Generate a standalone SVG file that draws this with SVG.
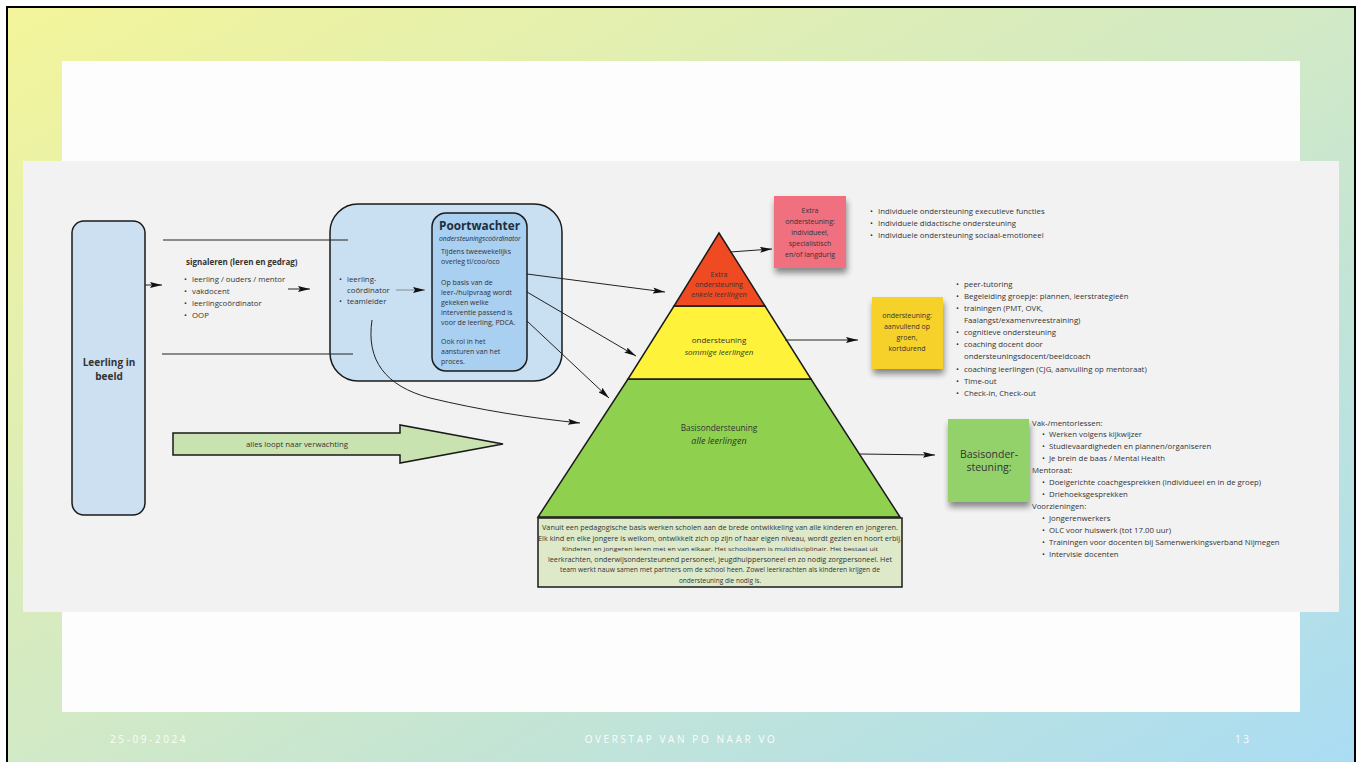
<svg xmlns="http://www.w3.org/2000/svg" width="1362" height="762" viewBox="0 0 1362 762">
<style>
text{font-family:"Open Sans","Liberation Sans",sans-serif;fill:#333}
.b{font-weight:bold}
.i{font-style:italic}
.s7{font-size:7px}
.s8{font-size:7.8px}
.mid{text-anchor:middle}
.edge{stroke:#1a1a1a;stroke-width:1.5}
.ln{fill:none;stroke:#222;stroke-width:1}
.foot{font-family:"Open Sans","Liberation Sans",sans-serif;font-size:10px;letter-spacing:2.6px;fill:#ffffff;fill-opacity:0.95}
</style>
<defs>
<linearGradient id="bg" x1="0" y1="0" x2="1" y2="1">
<stop offset="0" stop-color="#f4f59a"/>
<stop offset="0.5" stop-color="#d1e9c6"/>
<stop offset="1" stop-color="#a9dcf4"/>
</linearGradient>
<marker id="ah" viewBox="0 0 12 6" markerWidth="12" markerHeight="6" refX="12" refY="3" orient="auto" markerUnits="userSpaceOnUse">
<path d="M0,0 L12,3 L0,6 L2,3 z" fill="#111"/>
</marker>
<filter id="sh" x="-20%" y="-20%" width="140%" height="160%">
<feGaussianBlur in="SourceAlpha" stdDeviation="3"/>
<feOffset dx="1" dy="5" result="o"/>
<feComponentTransfer><feFuncA type="linear" slope="0.45"/></feComponentTransfer>
<feMerge><feMergeNode/><feMergeNode in="SourceGraphic"/></feMerge>
</filter>
</defs>

<g id="background">
<rect x="0" y="0" width="1362" height="762" fill="#ffffff"/>
<rect x="7" y="7" width="1348" height="762" fill="url(#bg)" stroke="#000" stroke-width="2"/>
<rect x="62" y="61" width="1238" height="651" fill="#fdfdfd"/>
<rect x="23" y="161" width="1316" height="451" fill="#f2f2f2"/>
</g>

<g id="footer">
<text class="foot" x="110" y="743">25-09-2024</text>
<text class="foot" x="681" y="743" text-anchor="middle">OVERSTAP VAN PO NAAR VO</text>
<text class="foot" x="1235" y="743">13</text>
</g>

<g id="leerling-in-beeld">
<rect class="edge" x="72" y="221" width="73" height="294" rx="12" fill="#cde0f2"/>
<text class="b mid" x="109" y="366" font-size="10">Leerling in</text>
<text class="b mid" x="109" y="380" font-size="10">beeld</text>
</g>

<g id="signaleren">
<text class="b" x="186" y="265" font-size="8">signaleren (leren en gedrag)</text>
<text class="s8" x="184" y="282">•</text><text class="s8" x="192" y="282">leerling / ouders / mentor</text>
<text class="s8" x="184" y="294">•</text><text class="s8" x="192" y="294">vakdocent</text>
<text class="s8" x="184" y="306">•</text><text class="s8" x="192" y="306">leerlingcoördinator</text>
<text class="s8" x="184" y="318">•</text><text class="s8" x="192" y="318">OOP</text>
</g>

<g id="coordinatie">
<rect class="edge" x="330" y="204" width="232" height="177" rx="28" fill="#c9dff2"/>
<text class="s8" x="339" y="282">•</text><text class="s8" x="347" y="282">leerling-</text>
<text class="s8" x="347" y="293">coördinator</text>
<text class="s8" x="339" y="304">•</text><text class="s8" x="347" y="304">teamleider</text>
</g>

<g id="poortwachter">
<rect class="edge" x="432" y="213" width="95" height="158" rx="14" fill="#a9cff1"/>
<text class="b" x="439" y="229.5" font-size="11.8" style="fill:#1f2d3d">Poortwachter</text>
<text class="i" x="439" y="240.5" font-size="6.8" style="fill:#1f2d3d">ondersteuningscoördinator</text>
<text class="s7" x="441" y="254">Tijdens tweewekelijks</text>
<text class="s7" x="441" y="264">overleg tl/coo/oco</text>
<text class="s7" x="441" y="285">Op basis van de</text>
<text class="s7" x="441" y="295">leer-/hulpvraag wordt</text>
<text class="s7" x="441" y="305">gekeken welke</text>
<text class="s7" x="441" y="315">interventie passend is</text>
<text class="s7" x="441" y="325">voor de leerling, PDCA.</text>
<text class="s7" x="441" y="344">Ook rol in het</text>
<text class="s7" x="441" y="354">aansturen van het</text>
<text class="s7" x="441" y="364">proces.</text>
</g>

<g id="verwachting-pijl">
<path class="edge" d="M173,433 L400,433 L400,425 L503,444 L400,463 L400,455 L173,455 z" fill="#c9e3b0" stroke-width="1.3"/>
<text class="mid" x="297" y="447" font-size="7.8">alles loopt naar verwachting</text>
</g>

<g id="piramide-basis">
<path class="edge" d="M628,379 L811,379 L900,517 L538,517 z" fill="#8fd14f"/>
<text class="mid" x="719" y="431" font-size="8.3">Basisondersteuning</text>
<text class="mid i" x="719" y="444" font-size="9">alle leerlingen</text>
</g>
<g id="piramide-ondersteuning">
<path class="edge" d="M674,306 L765,306 L811,379 L628,379 z" fill="#fef23a"/>
<text class="mid" x="719" y="343" font-size="8">ondersteuning</text>
<text class="mid i" x="719" y="355" font-size="8">sommige leerlingen</text>
</g>
<g id="piramide-extra">
<path class="edge" d="M719,233 L765,306 L674,306 z" fill="#f04a23"/>
<text class="mid" x="719" y="277" font-size="7">Extra</text>
<text class="mid" x="719" y="287" font-size="7">ondersteuning</text>
<text class="mid i" x="719" y="297" font-size="7.5">enkele leerlingen</text>
</g>

<g id="basis-tekst">
<rect class="edge" x="538" y="518" width="364" height="69" fill="#dde9c9"/>
<text class="mid" x="720" y="530" font-size="6.5" textLength="356" lengthAdjust="spacingAndGlyphs">Vanuit een pedagogische basis werken scholen aan de brede ontwikkeling van alle kinderen en jongeren.</text>
<text class="mid" x="720" y="541" font-size="6.5" textLength="364" lengthAdjust="spacingAndGlyphs">Elk kind en elke jongere is welkom, ontwikkelt zich op zijn of haar eigen niveau, wordt gezien en hoort erbij.</text>
<text class="mid" x="720" y="551" font-size="6" textLength="316" lengthAdjust="spacingAndGlyphs">Kinderen en jongeren leren met en van elkaar. Het schoolteam is multidisciplinair. Het bestaat uit</text>
<text class="mid" x="720" y="562" font-size="6.5" textLength="344" lengthAdjust="spacingAndGlyphs">leerkrachten, onderwijsondersteunend personeel, jeugdhulppersoneel en zo nodig zorgpersoneel. Het</text>
<text class="mid" x="720" y="572" font-size="6.5" textLength="320" lengthAdjust="spacingAndGlyphs">team werkt nauw samen met partners om de school heen. Zowel leerkrachten als kinderen krijgen de</text>
<text class="mid" x="720" y="583" font-size="6.5">ondersteuning die nodig is.</text>
</g>

<g id="sticky-extra">
<rect x="774" y="196" width="72" height="72" fill="#f0707f" filter="url(#sh)"/>
<text class="mid s7" x="810" y="213">Extra</text>
<text class="mid s7" x="810" y="224">ondersteuning:</text>
<text class="mid s7" x="810" y="235">individueel,</text>
<text class="mid s7" x="810" y="246">specialistisch</text>
<text class="mid s7" x="810" y="257">en/of langdurig</text>
</g>

<g id="lijst-extra">
<text class="s8" x="870" y="214">•</text><text class="s8" x="878" y="214">Individuele ondersteuning executieve functies</text>
<text class="s8" x="870" y="226">•</text><text class="s8" x="878" y="226">Individuele didactische ondersteuning</text>
<text class="s8" x="870" y="238">•</text><text class="s8" x="878" y="238">Individuele ondersteuning sociaal-emotioneel</text>
</g>

<g id="sticky-ondersteuning">
<rect x="872" y="297" width="71" height="72" fill="#f5d12b" filter="url(#sh)"/>
<text class="mid s7" x="907" y="318">ondersteuning:</text>
<text class="mid s7" x="907" y="329">aanvullend op</text>
<text class="mid s7" x="907" y="340">groen,</text>
<text class="mid s7" x="907" y="351">kortdurend</text>
</g>

<g id="lijst-ondersteuning">
<text class="s8" x="956" y="287">•</text><text class="s8" x="964" y="287">peer-tutoring</text>
<text class="s8" x="956" y="299">•</text><text class="s8" x="964" y="299">Begeleiding groepje: plannen, leerstrategieën</text>
<text class="s8" x="956" y="311">•</text><text class="s8" x="964" y="311">trainingen (PMT, OVK,</text>
<text class="s8" x="964" y="323">Faalangst/examenvreestraining)</text>
<text class="s8" x="956" y="335">•</text><text class="s8" x="964" y="335">cognitieve ondersteuning</text>
<text class="s8" x="956" y="347">•</text><text class="s8" x="964" y="347">coaching docent door</text>
<text class="s8" x="964" y="359">ondersteuningsdocent/beeldcoach</text>
<text class="s8" x="956" y="372">•</text><text class="s8" x="964" y="372">coaching leerlingen (CJG, aanvulling op mentoraat)</text>
<text class="s8" x="956" y="384">•</text><text class="s8" x="964" y="384">Time-out</text>
<text class="s8" x="956" y="396">•</text><text class="s8" x="964" y="396">Check-in, Check-out</text>
</g>

<g id="sticky-basis">
<rect x="948" y="419" width="81" height="83" fill="#93d26a" filter="url(#sh)"/>
<text class="mid" x="989" y="458" font-size="10.5">Basisonder-</text>
<text class="mid" x="989" y="471" font-size="10.5">steuning:</text>
</g>

<g id="lijst-basis">
<text class="s8" x="1032" y="426">Vak-/mentorlessen:</text>
<text class="s8" x="1042" y="437">•</text><text class="s8" x="1049" y="437">Werken volgens kijkwijzer</text>
<text class="s8" x="1042" y="449">•</text><text class="s8" x="1049" y="449">Studievaardigheden en plannen/organiseren</text>
<text class="s8" x="1042" y="461">•</text><text class="s8" x="1049" y="461">Je brein de baas / Mental Health</text>
<text class="s8" x="1032" y="473">Mentoraat:</text>
<text class="s8" x="1042" y="485">•</text><text class="s8" x="1049" y="485">Doelgerichte coachgesprekken (individueel en in de groep)</text>
<text class="s8" x="1042" y="497">•</text><text class="s8" x="1049" y="497">Driehoeksgesprekken</text>
<text class="s8" x="1032" y="509">Voorzieningen:</text>
<text class="s8" x="1042" y="521">•</text><text class="s8" x="1049" y="521">Jongerenwerkers</text>
<text class="s8" x="1042" y="533">•</text><text class="s8" x="1049" y="533">OLC voor huiswerk (tot 17.00 uur)</text>
<text class="s8" x="1042" y="545">•</text><text class="s8" x="1049" y="545">Trainingen voor docenten bij Samenwerkingsverband Nijmegen</text>
<text class="s8" x="1042" y="557">•</text><text class="s8" x="1049" y="557">Intervisie docenten</text>
</g>

<g id="connectors">
<line class="ln" x1="145" y1="285" x2="162" y2="285" marker-end="url(#ah)"/>
<line class="ln" x1="163" y1="240" x2="348" y2="240"/>
<line class="ln" x1="162" y1="354" x2="353" y2="354"/>
<line class="ln" x1="288" y1="289" x2="310" y2="289" marker-end="url(#ah)"/>
<line x1="396" y1="290" x2="425" y2="290" stroke="#777" stroke-width="0.8" marker-end="url(#ah)"/>
<line class="ln" x1="527" y1="274" x2="665" y2="292" marker-end="url(#ah)"/>
<line class="ln" x1="527" y1="292" x2="636" y2="356" marker-end="url(#ah)"/>
<line class="ln" x1="527" y1="321" x2="609" y2="398" marker-end="url(#ah)"/>
<path class="ln" d="M372,320 C366,360 385,386 430,398 C480,410 530,418 580,423" marker-end="url(#ah)"/>
<line class="ln" x1="730" y1="252" x2="772" y2="249" marker-end="url(#ah)"/>
<line class="ln" x1="785" y1="340" x2="858" y2="340" marker-end="url(#ah)"/>
<line class="ln" x1="860" y1="454" x2="935" y2="455" marker-end="url(#ah)"/>
</g>
</svg>
